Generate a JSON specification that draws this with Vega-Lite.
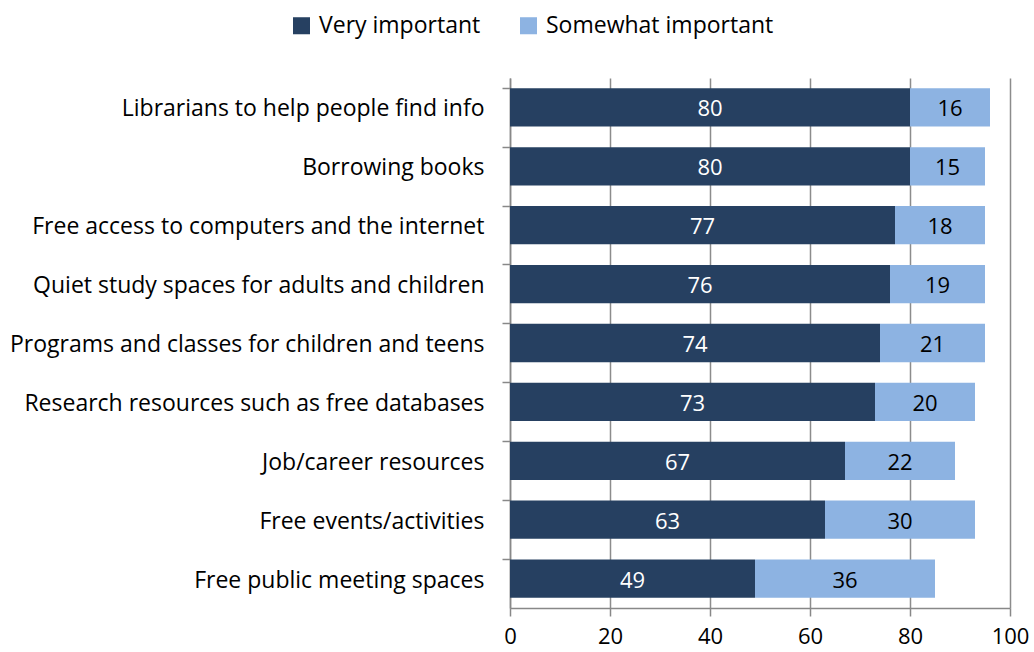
{
  "$schema": "https://vega.github.io/schema/vega-lite/v6.json",
  "width": 500,
  "height": 530,
  "autosize": {"type": "none"},
  "padding": {"left": 510, "top": 78, "right": 24, "bottom": 44},
  "background": "white",
  "config": {
    "font": "Open Sans",
    "view": {"stroke": null},
    "axis": {"labelFont": "Open Sans", "labelFontSize": 22, "labelColor": "#000000", "domainColor": "#888888", "tickColor": "#888888", "gridColor": "#8c8c8c", "domainWidth": 1.5, "tickWidth": 1.5, "gridWidth": 1.5}
  },
  "data": {
    "values": [
      {"item": "Librarians to help people find info", "level": "Very important", "order": 1, "value": 80},
      {"item": "Librarians to help people find info", "level": "Somewhat important", "order": 2, "value": 16},
      {"item": "Borrowing books", "level": "Very important", "order": 1, "value": 80},
      {"item": "Borrowing books", "level": "Somewhat important", "order": 2, "value": 15},
      {"item": "Free access to computers and the internet", "level": "Very important", "order": 1, "value": 77},
      {"item": "Free access to computers and the internet", "level": "Somewhat important", "order": 2, "value": 18},
      {"item": "Quiet study spaces for adults and children", "level": "Very important", "order": 1, "value": 76},
      {"item": "Quiet study spaces for adults and children", "level": "Somewhat important", "order": 2, "value": 19},
      {"item": "Programs and classes for children and teens", "level": "Very important", "order": 1, "value": 74},
      {"item": "Programs and classes for children and teens", "level": "Somewhat important", "order": 2, "value": 21},
      {"item": "Research resources such as free databases", "level": "Very important", "order": 1, "value": 73},
      {"item": "Research resources such as free databases", "level": "Somewhat important", "order": 2, "value": 20},
      {"item": "Job/career resources", "level": "Very important", "order": 1, "value": 67},
      {"item": "Job/career resources", "level": "Somewhat important", "order": 2, "value": 22},
      {"item": "Free events/activities", "level": "Very important", "order": 1, "value": 63},
      {"item": "Free events/activities", "level": "Somewhat important", "order": 2, "value": 30},
      {"item": "Free public meeting spaces", "level": "Very important", "order": 1, "value": 49},
      {"item": "Free public meeting spaces", "level": "Somewhat important", "order": 2, "value": 36}
    ]
  },
  "transform": [
    {"stack": "value", "groupby": ["item"], "sort": [{"field": "order"}], "as": ["v0", "v1"]},
    {"calculate": "(datum.v0 + datum.v1) / 2", "as": "mid"}
  ],
  "encoding": {
    "y": {
      "field": "item", "type": "nominal", "sort": null, "title": null,
      "scale": {"paddingInner": 0.35, "paddingOuter": 0.175},
      "axis": {"bandPosition": 0, "tickSize": 8, "labelPadding": 18, "labelOffset": 2, "grid": false, "domain": true, "labelLimit": 600, "labelFont": "Open Sans", "labelFontSize": 23}
    }
  },
  "layer": [
    {
      "mark": {"type": "bar"},
      "encoding": {
        "x": {
          "field": "v0", "type": "quantitative", "title": null,
          "scale": {"domain": [0, 100], "nice": false},
          "axis": {"values": [0, 20, 40, 60, 80, 100], "tickSize": 8, "labelPadding": 10, "grid": true, "labelFlush": false}
        },
        "x2": {"field": "v1"},
        "color": {
          "field": "level", "type": "nominal",
          "scale": {"domain": ["Very important", "Somewhat important"], "range": ["#264061", "#8DB3E2"]},
          "legend": {
            "title": null, "orient": "none", "direction": "horizontal",
            "legendX": -220, "legendY": -64,
            "symbolType": "square", "symbolSize": 290, "symbolStrokeWidth": 0, "symbolOpacity": 1,
            "labelFont": "Open Sans", "labelFontSize": 23, "labelColor": "#000000", "labelLimit": 400,
            "columnPadding": 36, "labelOffset": 6
          }
        }
      }
    },
    {
      "mark": {"type": "text", "fontSize": 22, "font": "Open Sans", "baseline": "middle", "align": "center", "dy": 2},
      "encoding": {
        "x": {"field": "mid", "type": "quantitative"},
        "text": {"field": "value", "type": "quantitative"},
        "color": {
          "field": "level", "type": "nominal", "legend": null,
          "scale": {"domain": ["Very important", "Somewhat important"], "range": ["#ffffff", "#000000"]}
        }
      }
    }
  ],
  "resolve": {"scale": {"color": "independent"}}
}
